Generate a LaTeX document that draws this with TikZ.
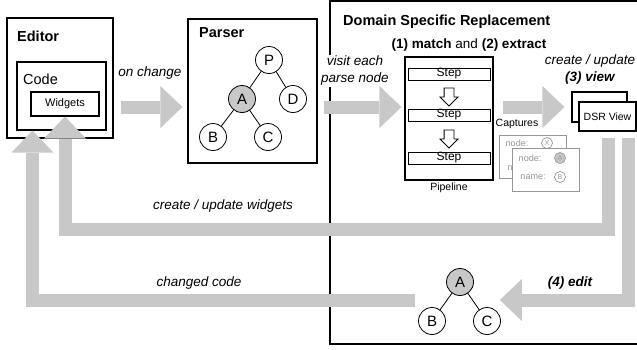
\documentclass[tikz,border=0pt]{standalone}
\usepackage{fontspec}
\setmainfont{Liberation Sans}
\usetikzlibrary{positioning,calc,arrows.meta,shapes.arrows}
\definecolor{flowgray}{RGB}{200,200,200}
\definecolor{capgray}{RGB}{150,150,150}

\begin{document}
\begin{tikzpicture}[
    x=1pt, y=-1pt,
    box/.style={draw, line width=1.1pt, fill=white, inner sep=0pt},
    ttl/.style={font=\fontsize{14.5}{17}\selectfont\bfseries, inner sep=0pt},
    lbl/.style={font=\fontsize{13.5}{17}\selectfont\itshape, align=center, inner sep=1pt},
    small/.style={font=\fontsize{10.5}{12}\selectfont, inner sep=0pt},
    stepbox/.style={draw, line width=0.9pt, fill=white, minimum width=82pt, minimum height=12pt, inner sep=0pt, font=\fontsize{12}{12}\selectfont},
    tnode/.style={circle, draw, line width=0.8pt, fill=white, minimum size=27pt, inner sep=0pt, font=\fontsize{15}{16}\selectfont},
    cnode/.style={circle, draw=capgray, line width=0.7pt, minimum size=11pt, inner sep=0pt, font=\fontsize{7}{8}\selectfont, text=capgray},
    capbox/.style={draw=capgray, line width=1pt, fill=white, minimum width=67pt, minimum height=43pt},
    captxt/.style={font=\fontsize{9}{10}\selectfont, text=capgray, inner sep=0pt},
    hollow/.style={single arrow, draw, fill=white, line width=0.8pt, rotate=-90, minimum height=18pt, inner xsep=0pt, inner ysep=4.5pt, single arrow head extend=4pt, single arrow tip angle=90},
    fatarrow/.style={draw=flowgray, line width=13pt, -{Triangle[length=22pt, width=42pt, line width=0pt]}}
]
\useasboundingbox (0,0) rectangle (637,349);
\clip (0,0) rectangle (637,349);

% Editor
\node[box, minimum width=106pt, minimum height=120pt] (editor) at (60,78) {};
\node[ttl, anchor=west] (editorttl) at (17,36) {Editor};
\node[box, minimum width=89pt, minimum height=68pt] (code) at (61.5,96) {};
\node[font=\fontsize{14.5}{17}\selectfont, anchor=west, inner sep=0pt] (codettl) at (23,79) {Code};
\node[box, minimum width=68pt, minimum height=24pt, font=\fontsize{11}{12}\selectfont] (widgets) at (65,104) {Widgets};

% Parser with parse tree
\node[box, minimum width=129pt, minimum height=144pt] (parser) at (252.5,91) {};
\node[ttl, anchor=west] (parserttl) at (199,33) {Parser};
\draw[line width=0.8pt] (269,60) -- (242,99) (269,60) -- (293,99) (242,99) -- (213,137) (242,99) -- (268,137);
\node[tnode] (tP) at (269,60) {P};
\node[tnode, fill=flowgray] (tA) at (242,99) {A};
\node[tnode] (tD) at (293,99) {D};
\node[tnode] (tB) at (213,137) {B};
\node[tnode] (tC) at (268,137) {C};

% Domain Specific Replacement
\node[box, minimum width=315pt, minimum height=343pt] (dsr) at (487.5,172.5) {};
\node[ttl, anchor=west] (dsrttl) at (343,22) {Domain Specific Replacement};
\node[lbl, fill=white] (visit) at (355,71) {visit each\\parse node};
\node[font=\fontsize{13.5}{17}\selectfont, inner sep=0pt] (matchlbl) at (469,45) {\textbf{(1) match} and \textbf{(2) extract}};

% Pipeline
\node[box, minimum width=88pt, minimum height=123pt] (pipeline) at (449,118.5) {};
\node[stepbox] (step1) at (449,74) {Step};
\node[stepbox] (step2) at (449,115) {Step};
\node[stepbox] (step3) at (449,158) {Step};
\node[hollow] (down1) at ($(step1.south)!0.5!(step2.north)$) {};
\node[hollow] (down2) at ($(step2.south)!0.5!(step3.north)$) {};
\node[small] (pipelbl) at (449,188) {Pipeline};

% Captures
\node[small] (caplbl) at (517,124) {Captures};
\node[capbox] (cap1) at (532.5,156.5) {};
\node[captxt] (cap1node) at (517,143) {node:};
\node[cnode] (cX) at (547,143) {X};
\node[captxt] (cap1name) at (520,168) {name:};
\node[capbox] (cap2) at (546,170) {};
\node[captxt] (cap2node) at (530,158) {node:};
\node[cnode, fill=flowgray] (cA) at (560,158) {A};
\node[captxt] (cap2name) at (533,177) {name:};
\node[cnode] (cB) at (560,177) {B};

% DSR views
\node[box, minimum width=55pt, minimum height=30pt] (bview) at (599.5,107) {};
\node[box, minimum width=57pt, minimum height=29pt, font=\fontsize{10.5}{12}\selectfont] (view) at (607.5,116.5) {DSR View};
\node[lbl] (createlbl) at (590,70) {create / update\\\textbf{(3) view}};

% edited tree
\draw[line width=0.8pt] (460,282) -- (432,321) (460,282) -- (487,321);
\node[tnode, fill=flowgray] (eA) at (460,282) {A};
\node[tnode] (eB) at (432,321) {B};
\node[tnode] (eC) at (487,321) {C};

% flow labels
\node[lbl] (changelbl) at (150,73) {on change};
\node[lbl] (widlbl) at (223,206) {create / update widgets};
\node[lbl] (codelbl) at (199,283) {changed code};
\node[lbl, font=\fontsize{13.5}{17}\selectfont\bfseries\itshape] (editlbl) at (570,283) {(4) edit};

% gray flow arrows
\coordinate (flow) at (0,107);
\coordinate (widrow) at (0,229);
\coordinate (lowrow) at (0,300);
\draw[fatarrow] ([xshift=7]editor.east |- flow) -- ([xshift=-5]parser.west |- flow);
\draw[fatarrow] ([xshift=6]parser.east |- flow) -- ([xshift=-3]pipeline.west |- flow);
\draw[fatarrow] ([xshift=9]pipeline.east |- bview) -- ([xshift=-7]bview.west);
\draw[fatarrow] ([xshift=1,yshift=-6]view.south) -- ([xshift=1]view.south |- widrow) -| (widgets.south);
\draw[fatarrow] ([xshift=-8,yshift=-6]view.south east) |- ([xshift=-1]eC.east |- lowrow);
\draw[fatarrow] ([xshift=-3]eB.west |- lowrow) -| ([xshift=16]code.south west);

\end{tikzpicture}
\end{document}
